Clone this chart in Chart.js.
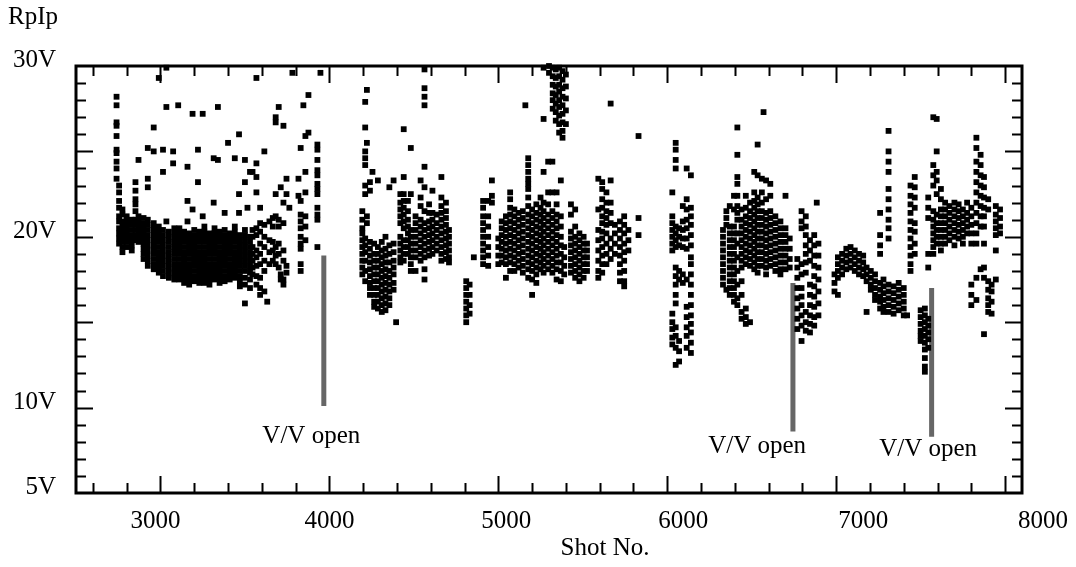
<!DOCTYPE html>
<html>
<head>
<meta charset="utf-8">
<script src="https://cdn.jsdelivr.net/npm/chart.js@4.4.1/dist/chart.umd.min.js"></script>
<style>
  body { margin: 0; background: #fff; }
  #wrap { width: 1076px; height: 567px; }
</style>
</head>
<body>
<div id="wrap"><canvas id="chart" width="1076" height="567"></canvas></div>
<script>
// Axis ranges and tick labels
const xRange = [2500, 8100];
const yRange = [5, 30];
const xTickValues = [3000, 4000, 5000, 6000, 7000, 8000];
const xTickLabels = ['3000', '4000', '5000', '6000', '7000', '8000'];
const yTickValues = [5, 10, 20, 30];
const yTickLabels = ['5V', '10V', '20V', '30V'];

// RpIp readings, one entry per shot column: [shot, value, value, ...]
const runA = [
  [2740, 28.2, 27.7, 26.7, 26.5, 25.9, 25.1, 24.9, 24.4, 24.0, 23.4],
  [2755, 23.0, 22.6, 22.1, 21.7, 21.2, 20.9, 20.5, 20.2, 19.9, 19.6],
  [2775, 21.6, 21.3, 20.9, 20.6, 20.3, 20.0, 19.7, 19.4, 19.1],
  [2800, 21.2, 20.9, 20.6, 20.3, 20.0, 19.7, 19.4],
  [2830, 21.0, 20.7, 20.4, 20.1, 19.8, 19.5, 19.2],
  [2852, 23.2, 22.7, 22.2, 21.9, 21.5, 21.0, 20.7, 20.4, 20.1, 19.8],
  [2870, 24.5, 21.2, 20.9, 20.6, 20.3, 20.0, 19.7],
  [2900, 21.1, 20.8, 20.5, 20.2, 19.9, 19.6, 19.3, 19.0, 18.7],
  [2925, 25.2, 23.4, 22.9, 21.0, 20.7, 20.4, 20.1, 19.8, 19.5, 19.2, 18.9, 18.6, 18.3],
  [2960, 26.4, 25.0, 20.8, 20.5, 20.2, 19.9, 19.6, 19.3, 19.0, 18.7, 18.4, 18.1],
  [2990, 29.3, 20.6, 20.3, 20.0, 19.7, 19.4, 19.1, 18.8, 18.5, 18.2, 17.9],
  [3015, 25.1, 23.8, 20.4, 20.1, 19.8, 19.5, 19.2, 18.9, 18.6, 18.3, 18.0, 17.7],
  [3035, 29.9, 27.6, 20.9],
  [3050, 20.3, 20.0, 19.7, 19.4, 19.1, 18.8, 18.5, 18.2, 17.9, 17.6],
  [3075, 25.0, 24.3],
  [3082, 20.5, 20.2, 19.9, 19.6, 19.3, 19.0, 18.7, 18.4, 18.1, 17.8, 17.5],
  [3105, 27.7],
  [3112, 20.5, 20.2, 19.9, 19.6, 19.3, 19.0, 18.7, 18.4, 18.1, 17.8, 17.5],
  [3140, 20.3, 20.0, 19.7, 19.4, 19.1, 18.8, 18.5, 18.2, 17.9, 17.6, 17.3],
  [3160, 24.1, 22.1, 20.9],
  [3170, 20.2, 19.9, 19.6, 19.3, 19.0, 18.7, 18.4, 18.1, 17.8, 17.5, 17.2],
  [3190, 27.2, 21.6],
  [3200, 20.4, 20.1, 19.8, 19.5, 19.2, 18.9, 18.6, 18.3, 18.0, 17.7, 17.4],
  [3222, 25.1, 23.2],
  [3230, 20.3, 20.0, 19.7, 19.4, 19.1, 18.8, 18.5, 18.2, 17.9, 17.6, 17.3],
  [3250, 27.2, 21.2],
  [3260, 20.6, 20.3, 20.0, 19.7, 19.4, 19.1, 18.8, 18.5, 18.2, 17.9, 17.6, 17.3],
  [3290, 20.2, 19.9, 19.6, 19.3, 19.0, 18.7, 18.4, 18.1, 17.8, 17.5, 17.2],
  [3315, 24.6, 22.0],
  [3320, 20.5, 20.2, 19.9, 19.6, 19.3, 19.0, 18.7, 18.4, 18.1, 17.8, 17.5],
  [3340, 27.6, 24.5],
  [3350, 20.3, 20.0, 19.7, 19.4, 19.1, 18.8, 18.5, 18.2, 17.9, 17.6, 17.3],
  [3380, 21.4, 20.4, 20.1, 19.8, 19.5, 19.2, 18.9, 18.6, 18.3, 18.0, 17.7, 17.4],
  [3400, 25.5],
  [3410, 20.2, 19.9, 19.6, 19.3, 19.0, 18.7, 18.4, 18.1, 17.8, 17.5],
  [3440, 24.6, 20.6, 20.3, 20.0, 19.7, 19.4, 19.1, 18.8, 18.5, 18.2, 17.9, 17.6],
  [3465, 26.0, 22.5, 21.4],
  [3470, 20.1, 19.8, 19.5, 19.2, 18.9, 18.6, 18.3, 18.0, 17.7, 17.4, 17.1],
  [3500, 24.5, 23.2, 20.4, 20.1, 19.8, 19.5, 19.2, 18.9, 18.6, 18.3, 18.0, 17.6, 17.2, 16.1],
  [3515, 21.7],
  [3530, 23.8, 20.0, 19.7, 19.4, 19.1, 18.8, 18.5, 18.2, 17.9, 17.5, 17.0]
];

const runB = [
  [3545, 23.8, 20.4, 20.0, 19.4, 19.0, 18.6, 18.2, 17.8],
  [3568, 29.3, 24.3, 23.5, 22.6, 20.5, 20.1, 19.2, 18.8, 18.3, 17.7, 17.2],
  [3590, 21.7, 20.8, 20.3, 19.6, 19.0, 18.4, 17.6, 17.0, 16.6],
  [3615, 25.0, 20.7, 20.0, 19.4, 18.6, 18.0, 16.8],
  [3632, 16.2],
  [3645, 20.9, 19.8, 19.1, 18.4],
  [3665, 21.1, 20.6, 19.7, 19.2, 18.6],
  [3682, 27.0, 26.7, 22.5, 21.2, 19.4, 18.9, 18.4],
  [3700, 27.6, 21.0, 20.6, 19.6, 19.0, 18.2],
  [3712, 22.9, 17.8, 17.5],
  [3728, 26.5, 22.0, 20.8, 19.2, 18.6, 17.5, 17.2],
  [3746, 23.4, 22.5, 18.3, 17.9],
  [3763, 21.7],
  [3781, 29.6],
  [3817, 23.4, 22.4],
  [3830, 25.2, 22.1, 21.3, 20.9, 20.5, 20.0, 19.6, 19.3, 18.4, 18.0],
  [3846, 27.7],
  [3858, 25.9, 23.8, 22.6, 21.2, 20.6, 19.8],
  [3876, 28.3, 26.1],
  [3929, 25.4, 25.1, 24.5, 23.9, 23.6, 23.1, 22.8, 22.5, 21.7, 21.3, 21.0, 19.4],
  [3947, 29.6]
];

const runC = [
  [4195, 21.5, 21.0, 20.5, 20.2, 19.8, 19.4, 19.0, 18.6, 18.2, 17.8],
  [4212, 27.9, 26.4, 25.0, 24.6, 24.2, 23.0, 22.5, 19.9, 19.5, 19.1, 18.6, 18.0, 17.4],
  [4222, 28.6, 25.5, 21.2, 20.8],
  [4240, 23.2, 22.7, 19.7, 19.3, 18.9, 18.5, 18.1, 17.7, 17.3, 17.0, 16.6],
  [4255, 23.8],
  [4265, 19.6, 19.0, 18.6, 18.2, 17.8, 17.4, 17.0, 16.6, 16.2, 15.9],
  [4287, 23.3, 19.4, 19.0, 18.6, 18.2, 17.8, 17.4, 17.0, 16.6, 16.2, 15.8],
  [4310, 19.7, 19.2, 18.8, 18.4, 18.0, 17.6, 17.2, 16.8, 16.4, 16.0, 15.6],
  [4332, 20.0, 19.3, 18.9, 18.5, 18.1, 17.7, 17.3, 16.9, 16.5, 16.1, 15.7],
  [4355, 22.9, 19.5, 19.0, 18.5, 18.0, 17.6, 17.2, 16.8, 16.4, 16.0],
  [4380, 23.3, 19.6, 19.1, 18.6, 18.2, 17.8, 17.3, 16.9],
  [4395, 15.0]
];

const runD = [
  [4420, 22.5, 22.0, 21.6, 21.2, 20.8, 20.0, 19.6, 19.2, 18.8, 18.5],
  [4440, 26.3, 23.5, 22.5, 22.1, 21.7, 21.3, 20.9, 20.5, 19.8, 19.4, 19.0, 18.6],
  [4465, 22.1, 21.5, 21.0, 20.6, 20.2, 19.8, 19.4, 19.0],
  [4482, 25.2, 22.5, 20.4, 20.0, 19.6, 19.2, 18.8, 18.4, 18.0],
  [4510, 21.2, 20.8, 20.4, 20.0, 19.6, 19.2, 18.8, 18.0],
  [4540, 23.3, 22.3, 21.8, 21.0, 20.6, 20.2, 19.8, 19.4, 19.0, 18.6],
  [4563, 29.8, 28.7, 28.2, 27.7, 24.1, 22.9, 21.5, 20.8, 20.4, 20.0, 19.6, 19.2, 18.8, 18.1, 17.5],
  [4590, 21.9, 21.4, 20.9, 20.5, 20.1, 19.7, 19.3, 18.9],
  [4610, 22.7, 21.4, 21.0, 20.6, 20.2, 19.8, 19.4, 19.0],
  [4635, 21.3, 20.8, 20.4, 20.0, 19.6, 19.2],
  [4663, 23.5, 22.3, 21.8, 21.4, 21.0, 20.6, 20.2, 19.8, 19.4, 19.0, 18.6],
  [4690, 22.0, 21.5, 21.1, 20.7, 20.3, 19.9, 19.5, 19.1, 18.7],
  [4708, 20.4, 20.0, 19.6, 19.2, 18.8, 18.5],
  [4810, 17.4, 17.0, 16.6, 16.2, 15.8, 15.4, 15.0],
  [4830, 17.2, 16.6, 16.0, 15.5],
  [4855, 18.8],
  [4910, 22.1, 21.7, 21.2, 20.8, 20.4, 20.0, 19.6, 19.2, 18.8, 18.4],
  [4940, 22.1, 21.2, 20.6, 20.0, 19.4, 18.9, 18.3],
  [4962, 23.3, 22.4, 22.0]
];

const runE = [
  [5000, 19.9, 19.4, 18.9, 18.4],
  [5020, 20.9, 20.5, 20.1, 19.7, 19.3, 18.9, 18.5],
  [5045, 21.2, 20.8, 20.4, 20.0, 19.6, 19.2, 18.8, 18.4, 17.6],
  [5070, 22.6, 22.2, 21.7, 21.3, 20.9, 20.5, 20.1, 19.7, 19.3, 18.9, 18.5, 18.0],
  [5095, 21.6, 21.2, 20.8, 20.4, 20.0, 19.6, 19.2, 18.8, 18.4, 18.0],
  [5120, 21.4, 21.0, 20.6, 20.2, 19.8, 19.4, 19.0, 18.6, 18.2],
  [5145, 21.5, 21.1, 20.7, 20.3, 19.9, 19.5, 19.1, 18.7, 18.3, 17.9],
  [5160, 27.7],
  [5177, 24.6, 24.2, 23.8, 23.4, 23.1, 22.8, 22.3, 21.8, 21.3, 20.9, 20.5, 20.1, 19.7, 19.3, 18.9, 18.5, 18.1, 17.6],
  [5200, 21.6, 21.2, 20.8, 20.4, 20.0, 19.6, 19.2, 18.8, 18.4, 18.0, 17.5, 16.6],
  [5225, 21.9, 21.4, 21.0, 20.6, 20.2, 19.8, 19.4, 19.0, 18.6, 18.2, 17.8, 17.3],
  [5250, 22.3, 21.7, 21.3, 20.9, 20.5, 20.1, 19.7, 19.3, 18.9, 18.5, 18.1],
  [5268, 29.9, 26.9, 23.8, 22.0, 21.5, 21.1, 20.7, 20.3, 19.9, 19.5, 19.1, 18.7, 18.3, 17.9],
  [5295, 24.4, 22.6, 21.9, 21.3, 20.9, 20.5, 20.1, 19.7, 19.3, 18.9, 18.5, 18.1],
  [5320, 24.4, 22.6, 21.5, 21.1, 20.7, 20.3, 19.9, 19.5, 19.1, 18.7, 18.3, 17.9],
  [5345, 22.6, 21.9, 21.3, 20.9, 20.5, 20.1, 19.7, 19.3, 18.9, 18.5, 18.1, 17.5],
  [5370, 23.3, 21.2, 20.6, 20.0, 19.5, 19.0, 18.5, 18.0, 17.4],
  [5390, 19.4, 18.8, 18.3, 17.8]
];

const runTop = [
  [5300, 30.0, 29.6],
  [5322, 29.9, 29.4, 28.9, 28.4, 28.0, 27.5],
  [5340, 29.8, 29.3, 28.8, 28.3, 27.8, 27.3, 26.8],
  [5360, 29.9, 29.4, 28.9, 28.5, 28.0, 27.6, 27.1, 26.6, 26.1],
  [5380, 29.7, 29.2, 28.7, 28.2, 27.7, 27.2, 26.7, 26.2, 25.8],
  [5400, 29.5, 28.8, 28.1, 27.4, 26.6]
];

const runF = [
  [5430, 21.9, 21.3, 20.3, 19.9, 19.5, 19.1, 18.7, 18.3, 17.9],
  [5455, 21.6, 20.6, 20.0, 19.6, 19.2, 18.8, 18.4, 18.0, 17.6],
  [5480, 20.2, 19.8, 19.4, 19.0, 18.6, 18.2, 17.8, 17.4],
  [5505, 20.0, 19.6, 19.2, 18.8, 18.4, 18.0, 17.6],
  [5525, 19.6, 19.2, 18.8, 18.4, 18.0],
  [5592, 23.4, 21.6, 20.4, 19.8, 19.2, 18.6, 18.0, 17.6],
  [5615, 23.2, 22.8, 22.2, 21.7, 21.2, 20.8, 20.3, 19.9, 19.4, 18.9, 18.4, 17.9],
  [5640, 22.6, 22.0, 21.5, 21.1, 20.7, 20.2, 19.6, 19.0, 18.4],
  [5665, 27.8, 23.3, 22.0, 21.4, 20.8, 19.9, 19.3, 18.7],
  [5690, 20.7, 20.2, 19.6, 19.0],
  [5720, 20.9, 20.4, 19.9, 19.4, 18.9, 18.4, 17.9, 17.4],
  [5745, 21.2, 20.7, 20.2, 19.6, 19.1, 18.6, 18.0, 17.4, 17.1],
  [5770, 20.4, 19.8, 19.2],
  [5830, 25.9, 21.1, 20.1]
];

const runG = [
  [6030, 22.6, 21.2, 20.8, 20.4, 20.0, 19.6, 19.2, 15.5, 15.0, 14.6, 14.1, 13.7],
  [6050, 25.5, 25.1, 24.5, 24.0, 20.6, 20.2, 19.8, 19.4, 18.2, 17.7, 17.2, 16.6, 16.1, 14.7, 14.2, 13.5, 12.5],
  [6070, 20.5, 20.0, 19.5, 18.0, 17.5, 13.9, 13.3, 12.7],
  [6092, 21.8, 20.9, 20.4, 19.9, 19.4, 17.8, 17.3],
  [6115, 24.0, 22.2, 21.6, 21.0, 20.5, 19.9, 19.3, 17.5, 15.9, 15.3, 14.7, 14.2, 13.5],
  [6140, 23.6, 21.7, 21.2, 20.7, 20.1, 19.5, 18.8, 18.4, 17.8, 17.2, 16.6, 16.0, 15.4, 14.9, 14.4, 13.8, 13.2]
];

const runH = [
  [6330, 20.4, 20.0, 19.6, 19.2, 18.8, 18.4, 18.0, 17.6, 17.2],
  [6350, 21.5, 21.1, 20.7, 16.9],
  [6370, 21.8, 20.6, 20.2, 19.8, 19.4, 19.0, 18.6, 18.2, 17.8, 17.4, 17.0, 16.6],
  [6395, 22.4, 21.6, 20.6, 20.2, 19.8, 19.4, 19.0, 18.6, 18.2, 17.8, 17.4, 17.0, 16.6, 16.2],
  [6415, 26.4, 24.8, 23.5, 23.1, 22.4, 21.8, 21.4, 21.0, 20.2, 19.6, 18.8, 18.0, 17.2, 16.4, 16.0],
  [6440, 21.6, 21.0, 20.6, 20.2, 19.8, 19.4, 19.0, 18.6, 18.2, 17.4, 16.6, 15.6, 15.2],
  [6465, 22.4, 21.7, 21.2, 20.8, 20.4, 20.0, 19.6, 19.2, 18.8, 18.4, 15.8, 15.3, 14.9],
  [6490, 22.0, 21.5, 21.1, 20.7, 20.3, 19.9, 19.5, 19.1, 18.7, 18.3, 15.0],
  [6515, 23.8, 22.6, 22.1, 21.7, 21.3, 20.9, 20.5, 20.1, 19.7, 19.3, 18.9, 18.5, 18.1],
  [6535, 25.4, 23.6, 22.3, 21.9, 21.5, 21.1, 20.7, 20.3, 19.9, 19.5, 19.1, 18.7, 18.3, 17.9],
  [6560, 23.4, 22.6, 22.0, 21.5, 21.1, 20.7, 20.3, 19.9, 19.5, 19.1, 18.7, 18.3],
  [6570, 27.3],
  [6585, 23.3, 22.2, 21.4, 21.0, 20.6, 20.2, 19.8, 19.4, 19.0, 18.6, 18.2, 17.8],
  [6610, 23.1, 22.4, 21.5, 21.1, 20.7, 20.3, 19.9, 19.5, 19.1, 18.7, 18.3],
  [6640, 21.2, 20.8, 20.4, 20.0, 19.6, 19.2, 18.8, 18.4, 18.0],
  [6670, 20.9, 20.5, 20.1, 19.7, 19.3, 18.9, 18.5, 18.1, 17.8],
  [6700, 22.4, 20.5, 20.1, 19.7, 19.3, 18.9, 18.5, 18.1],
  [6725, 19.9, 19.3, 18.7, 18.2],
  [6770, 18.7, 18.2, 17.6, 17.0, 16.4, 15.8, 15.2, 14.6],
  [6795, 21.5, 20.9, 20.5, 18.4, 17.8, 17.0, 16.5, 16.0, 15.4, 14.8, 13.9],
  [6820, 21.2, 20.6, 20.1, 19.5, 19.0, 18.5, 17.9, 15.6, 15.0, 14.5],
  [6845, 19.8, 19.2, 18.6, 17.2, 16.6, 16.0, 15.4, 14.9, 14.4],
  [6870, 20.1, 19.5, 18.9, 18.3, 17.7, 17.1, 16.5, 15.9, 15.3, 14.8],
  [6885, 22.0],
  [6895, 19.6, 18.9, 18.2, 17.5, 16.8, 16.1, 15.4]
];

const runI = [
  [6990, 17.8, 17.3, 16.8],
  [7010, 18.8, 18.4, 18.0, 17.6, 16.6],
  [7035, 19.0, 18.6, 18.2, 17.8],
  [7060, 19.3, 18.9, 18.5, 18.1],
  [7085, 19.4, 19.0, 18.6, 18.2],
  [7110, 19.2, 18.8, 18.4, 18.0],
  [7135, 19.0, 18.6, 18.2, 17.8],
  [7160, 18.9, 18.5, 18.1, 17.7],
  [7180, 18.2, 17.8, 17.4, 15.6],
  [7205, 18.0, 17.6, 17.2, 16.9],
  [7230, 17.8, 17.4, 17.0, 16.6, 16.3],
  [7260, 21.4, 20.1, 19.5, 19.0, 17.3, 16.9, 16.5, 16.2, 15.8],
  [7280, 17.5, 17.1, 16.7, 16.3, 15.9, 15.6],
  [7310, 26.2, 25.0, 24.4, 23.8, 22.8, 22.2, 21.6, 21.0, 20.5, 19.9, 17.2, 16.8, 16.4, 16.0, 15.6],
  [7340, 17.1, 16.7, 16.3, 15.9, 15.5],
  [7370, 17.3, 16.9, 16.5, 16.1, 15.7],
  [7400, 17.0, 16.6, 16.2, 15.8, 15.4],
  [7420, 15.4]
];

const runJ = [
  [7440, 23.0, 22.4, 21.9, 21.4, 20.9, 20.4, 19.9, 19.4, 18.9, 18.4, 18.0],
  [7465, 23.5, 22.9, 22.3, 21.7, 20.8, 20.3, 19.6, 19.0],
  [7500, 15.7, 15.3, 14.9, 14.5, 14.2, 13.9],
  [7525, 15.8, 15.4, 15.0, 14.6, 14.2, 13.8, 13.4, 12.9, 12.4, 12.1],
  [7545, 22.3, 21.7, 21.1, 19.0, 18.2, 15.2, 14.8, 14.4, 14.0, 13.5],
  [7575, 27.0, 24.2, 23.6, 23.0, 21.5, 21.0, 20.6, 20.2, 19.8, 19.4, 19.0],
  [7595, 26.9, 25.0, 23.8, 23.3, 22.5, 21.3, 20.8, 20.4, 20.0, 19.6],
  [7620, 22.8, 22.2, 21.6, 21.2, 20.8, 20.4, 20.0, 19.6, 19.2],
  [7645, 22.0, 21.6, 21.2, 20.8, 20.4, 20.0, 19.6],
  [7670, 21.8, 21.4, 21.0, 20.6, 20.2, 19.8],
  [7700, 22.0, 21.6, 21.2, 20.8, 20.4, 20.0, 19.5],
  [7725, 21.9, 21.5, 21.1, 20.7, 20.3, 19.9],
  [7750, 21.6, 21.2, 20.8, 20.4, 20.0, 19.6],
  [7775, 22.0, 21.4, 21.0, 20.6, 20.2],
  [7800, 21.7, 21.2, 20.7, 20.2, 19.6, 17.2, 16.6, 16.0],
  [7830, 25.8, 25.2, 24.4, 23.8, 23.2, 22.6, 22.0, 21.4, 20.8, 20.2, 19.6, 17.6, 16.3],
  [7855, 24.8, 24.2, 23.6, 23.0, 22.4, 21.8, 21.2, 20.6, 18.1],
  [7875, 23.5, 22.9, 22.3, 21.7, 21.2, 20.6, 19.6, 18.2, 17.6, 14.3],
  [7900, 22.2, 21.6, 17.4, 16.9, 16.4, 16.0, 15.6],
  [7920, 17.2, 16.8, 16.2, 15.5],
  [7945, 21.8, 21.3, 20.9, 20.5, 20.1, 19.2, 17.5],
  [7970, 21.6, 21.1, 20.6, 20.2]
];

// "V/V open" markers: shot, top and bottom of the gray bar
const vvShots = [3967, 6744, 7565];
const vvTop = [18.9, 17.3, 17.0];
const vvBottom = [10.1, 8.6, 8.3];
// label anchor (shot, value) for each marker text
const vvLabelShots = [3893, 6532, 7544];
const vvLabelValues = [7.93, 7.34, 7.17];

function toPoints(runs) {
  return runs.flatMap(([shot, ...vals]) => vals.map(v => ({ x: shot, y: v })));
}

const allRuns = [].concat(runA, runB, runC, runD, runE, runTop, runF, runG, runH, runI, runJ);

const datasets = [{
  type: 'scatter',
  data: toPoints(allRuns),
  pointStyle: 'rect',
  pointRadius: 4.1,
  pointBackgroundColor: '#000',
  pointBorderWidth: 0,
  clip: false
}];

vvShots.forEach(function (shot, i) {
  datasets.push({
    type: 'line',
    data: [{ x: shot, y: vvTop[i] }, { x: shot, y: vvBottom[i] }],
    borderColor: '#666',
    borderWidth: 5,
    pointRadius: 0,
    clip: false
  });
});

const SERIF = '25px "Liberation Serif", "Times New Roman", serif';

// draws the boxed frame with inward ticks and all the text
const framePlugin = {
  id: 'frame',
  afterDatasetsDraw(chart) {
    const ctx = chart.ctx;
    const a = chart.chartArea;
    const x = chart.scales.x;
    const y = chart.scales.y;
    ctx.save();
    ctx.strokeStyle = '#000';
    ctx.lineWidth = 2;
    ctx.beginPath();
    // x ticks every 200 shots, long ones every 1000
    for (let v = 2600; v <= 8000; v += 200) {
      const px = Math.round(x.getPixelForValue(v)) + 0.5;
      const len = v % 1000 === 0 ? 17 : 10;
      ctx.moveTo(px, a.bottom); ctx.lineTo(px, a.bottom - len);
      ctx.moveTo(px, a.top); ctx.lineTo(px, a.top + len);
    }
    // y ticks every 1V, long ones every 5V
    for (let v = 6; v <= 29; v += 1) {
      const py = Math.round(y.getPixelForValue(v)) + 0.5;
      const len = v % 5 === 0 ? 17 : 10;
      ctx.moveTo(a.left, py); ctx.lineTo(a.left + len, py);
      ctx.moveTo(a.right, py); ctx.lineTo(a.right - len, py);
    }
    ctx.stroke();
    ctx.lineWidth = 3;
    ctx.strokeRect(a.left, a.top, a.right - a.left, a.bottom - a.top);

    ctx.fillStyle = '#000';
    ctx.font = SERIF;
    ctx.textBaseline = 'alphabetic';
    // x labels sit a little right of their ticks in the original
    const xShift = [-5, 0, 8, 16, 27, 38];
    ctx.textAlign = 'center';
    xTickValues.forEach(function (v, i) {
      ctx.fillText(xTickLabels[i], x.getPixelForValue(v) + xShift[i], a.bottom + 35);
    });
    ctx.textAlign = 'right';
    yTickValues.forEach(function (v, i) {
      ctx.fillText(yTickLabels[i], a.left - 20, y.getPixelForValue(v) + 1);
    });
    ctx.textAlign = 'left';
    ctx.fillText('RpIp', 8, 24);
    ctx.textAlign = 'center';
    ctx.fillText('Shot No.', 605, 555);
    vvLabelShots.forEach(function (s, i) {
      ctx.fillText('V/V open', x.getPixelForValue(s), y.getPixelForValue(vvLabelValues[i]));
    });
    ctx.restore();
  }
};

new Chart(document.getElementById('chart'), {
  data: { datasets: datasets },
  options: {
    responsive: false,
    animation: false,
    layout: { padding: { left: 76, right: 54, top: 66, bottom: 74 } },
    plugins: { legend: { display: false }, tooltip: { enabled: false } },
    scales: {
      x: { type: 'linear', min: xRange[0], max: xRange[1], display: false },
      y: { type: 'linear', min: yRange[0], max: yRange[1], display: false }
    }
  },
  plugins: [framePlugin]
});
</script>
</body>
</html>
